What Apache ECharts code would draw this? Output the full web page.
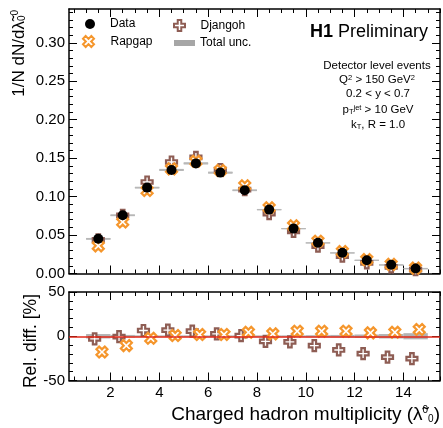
<!DOCTYPE html>
<html>
<head>
<meta charset="utf-8">
<script src="https://cdn.jsdelivr.net/npm/echarts@6/dist/echarts.min.js"></script>
<style>
html,body{margin:0;padding:0;background:#fff;}
#chart{width:443px;height:428px;}
</style>
</head>
<body>
<div id="chart"></div>
<script>
// ---------- data ----------
const binCenters = [1.5, 2.5, 3.5, 4.5, 5.5, 6.5, 7.5, 8.5, 9.5, 10.5, 11.5, 12.5, 13.5, 14.5];
const binWidth = 1;
const dataVals    = [0.0451, 0.0757, 0.1117, 0.1347, 0.1432, 0.1312, 0.1082, 0.0831, 0.0584, 0.0399, 0.0269, 0.0173, 0.0113, 0.0065];
const rapgapVals  = [0.0360, 0.0670, 0.1080, 0.1360, 0.1460, 0.1340, 0.1140, 0.0855, 0.0620, 0.0420, 0.0285, 0.0180, 0.0118, 0.0070];
const djangohVals = [0.0437, 0.0755, 0.1190, 0.1450, 0.1510, 0.1350, 0.1090, 0.0780, 0.0547, 0.0357, 0.0227, 0.0139, 0.0086, 0.0049];
const rapgapRel   = [-17.8, -10.6, -2.3, 0.8, 1.9, 2.0, 4.5, 2.7, 5.7, 5.7, 5.7, 3.8, 4.5, 7.6];
const djangohRel  = [-3.0, -0.4, 6.5, 7.0, 5.7, 2.7, 0.8, -5.7, -6.4, -10.6, -15.5, -19.7, -23.5, -25.3];
const totalUncPct = [2.5, 1.5, 1.0, 1.0, 1.0, 1.0, 1.0, 1.0, 1.0, 1.2, 1.5, 2.0, 2.5, 3.5];

const xTickLabels = [2, 4, 6, 8, 10, 12, 14];
const yMainTickLabels = [0, 0.05, 0.10, 0.15, 0.20, 0.25, 0.30];
const yRatioTickLabels = [-50, 0, 50];

// ---------- styles ----------
const FONT = 'Liberation Sans, Arial, Helvetica, sans-serif';
const C_RAP = '#f5962c';
const C_DJA = '#8e5d54';
const C_UNC = '#a6a6a6';
const relOffset = 0.15;

const plusPath = 'path://M3.4,0 L6.6,0 L6.6,3.4 L10,3.4 L10,6.6 L6.6,6.6 L6.6,10 L3.4,10 L3.4,6.6 L0,6.6 L0,3.4 L3.4,3.4 Z';
const xPath = 'path://M7.404,0.333 L9.667,2.596 L7.263,5 L9.667,7.404 L7.404,9.667 L5,7.263 L2.596,9.667 L0.333,7.404 L2.737,5 L0.333,2.596 L2.596,0.333 L5,2.737 Z';

function range(a, b, s) { const r = []; for (let v = a; v <= b + 1e-9; v += s) r.push(+v.toFixed(4)); return r; }
const xMinor = range(0.5, 15.5, 0.5);
const yMainMinor = range(0.01, 0.34, 0.01);
const yRatioMinor = range(-40, 40, 10);

const X_MIN = 0.3, X_MAX = 15.5;
const Y_MAIN_MAX = 0.344;

const G_MAIN = {left: 69, top: 9, width: 371, height: 264.5};
const G_RAT  = {left: 69, top: 292, width: 371, height: 88.5};

function xAx(grid, pos, ticks, len, labels, lineShow) {
  return {
    type: 'value', gridIndex: grid, position: pos, min: X_MIN, max: X_MAX,
    axisLine: {show: lineShow, onZero: false, lineStyle: {color: '#000', width: 1.5}},
    axisTick: {show: true, inside: true, length: len, customValues: ticks, lineStyle: {color: '#000', width: 1}},
    axisLabel: labels ? {show: true, customValues: labels, margin: 5, color: '#000', fontSize: 15, fontFamily: FONT} : {show: false},
    splitLine: {show: false}
  };
}
function yAx(grid, pos, min, max, ticks, len, labels, fmt, lineShow) {
  return {
    type: 'value', gridIndex: grid, position: pos, min: min, max: max,
    axisLine: {show: lineShow, onZero: false, lineStyle: {color: '#000', width: 1.5}},
    axisTick: {show: true, inside: true, length: len, customValues: ticks, lineStyle: {color: '#000', width: 1}},
    axisLabel: labels ? {show: true, customValues: labels, margin: 4, color: '#000', fontSize: 15, fontFamily: FONT, formatter: fmt} : {show: false},
    splitLine: {show: false}
  };
}

const fmtMain = v => v.toFixed(2);
const fmtRat = v => String(Math.round(v));

const xAxes = [
  xAx(0, 'bottom', xTickLabels, 8, null, true),
  xAx(0, 'top', xTickLabels, 8, null, true),
  xAx(2, 'bottom', xMinor, 4, null, false),
  xAx(2, 'top', xMinor, 4, null, false),
  xAx(1, 'bottom', xTickLabels, 8, xTickLabels, true),
  xAx(1, 'top', xTickLabels, 8, null, true),
  xAx(3, 'bottom', xMinor, 4, null, false),
  xAx(3, 'top', xMinor, 4, null, false)
];
const yAxes = [
  yAx(0, 'left', 0, Y_MAIN_MAX, yMainTickLabels, 8, yMainTickLabels, fmtMain, true),
  yAx(0, 'right', 0, Y_MAIN_MAX, yMainTickLabels, 8, null, null, true),
  yAx(2, 'left', 0, Y_MAIN_MAX, yMainMinor, 4, null, null, false),
  yAx(2, 'right', 0, Y_MAIN_MAX, yMainMinor, 4, null, null, false),
  yAx(1, 'left', -50, 50, yRatioTickLabels, 8, yRatioTickLabels, fmtRat, true),
  yAx(1, 'right', -50, 50, yRatioTickLabels, 8, null, null, true),
  yAx(3, 'left', -50, 50, yRatioMinor, 4, null, null, false),
  yAx(3, 'right', -50, 50, yRatioMinor, 4, null, null, false)
];

function boxRender(params, api) {
  const x = api.value(0), lo = api.value(1), hi = api.value(2);
  const p1 = api.coord([x - binWidth / 2, hi]);
  const p2 = api.coord([x + binWidth / 2, lo]);
  return {type: 'rect', shape: {x: p1[0], y: p1[1], width: p2[0] - p1[0], height: Math.max(p2[1] - p1[1], 1)},
          style: {fill: C_UNC, opacity: 0.85}};
}
function xerrRender(params, api) {
  const x = api.value(0), y = api.value(1);
  const p1 = api.coord([x - binWidth / 2, y]);
  const p2 = api.coord([x + binWidth / 2, y]);
  return {type: 'line', shape: {x1: p1[0], y1: p1[1], x2: p2[0], y2: p2[1]},
          style: {stroke: '#b8b8b8', lineWidth: 1.2}};
}

const series = [
  {name: 'Total unc.', type: 'custom', xAxisIndex: 0, yAxisIndex: 0, z: 1, renderItem: boxRender,
   itemStyle: {color: C_UNC},
   data: binCenters.map((b, i) => [b, dataVals[i] * (1 - totalUncPct[i] / 100), dataVals[i] * (1 + totalUncPct[i] / 100)])},
  {name: 'xerr', type: 'custom', xAxisIndex: 0, yAxisIndex: 0, z: 2, renderItem: xerrRender,
   data: binCenters.map((b, i) => [b, dataVals[i]])},
  {name: 'Djangoh', type: 'scatter', xAxisIndex: 0, yAxisIndex: 0, z: 3, symbol: plusPath, symbolSize: 11, symbolKeepAspect: true,
   itemStyle: {color: '#fff', borderColor: C_DJA, borderWidth: 2.2, opacity: 1},
   data: binCenters.map((b, i) => [b, djangohVals[i]])},
  {name: 'Rapgap', type: 'scatter', xAxisIndex: 0, yAxisIndex: 0, z: 4, symbol: xPath, symbolSize: 11, symbolKeepAspect: true,
   itemStyle: {color: '#fff', borderColor: C_RAP, borderWidth: 2.2, opacity: 1},
   data: binCenters.map((b, i) => [b, rapgapVals[i]])},
  {name: 'Data', type: 'scatter', xAxisIndex: 0, yAxisIndex: 0, z: 5, symbol: 'circle', symbolSize: 10,
   itemStyle: {color: '#000', opacity: 1},
   data: binCenters.map((b, i) => [b, dataVals[i]])},
  // ratio panel
  {name: 'Total unc.', type: 'custom', xAxisIndex: 4, yAxisIndex: 4, z: 1, renderItem: boxRender,
   itemStyle: {color: C_UNC},
   data: binCenters.map((b, i) => [b, -totalUncPct[i], totalUncPct[i]])},
  {name: 'zero', type: 'line', xAxisIndex: 4, yAxisIndex: 4, z: 2, data: [],
   markLine: {silent: true, symbol: 'none', animation: false, label: {show: false},
              lineStyle: {color: '#e0281a', width: 1.5, type: 'solid', opacity: 1}, data: [{yAxis: 0}]}},
  {name: 'Djangoh', type: 'scatter', xAxisIndex: 4, yAxisIndex: 4, z: 3, symbol: plusPath, symbolSize: 11, symbolKeepAspect: true,
   itemStyle: {color: '#fff', borderColor: C_DJA, borderWidth: 2.2, opacity: 1},
   data: binCenters.map((b, i) => [b - relOffset, djangohRel[i]])},
  {name: 'Rapgap', type: 'scatter', xAxisIndex: 4, yAxisIndex: 4, z: 4, symbol: xPath, symbolSize: 11, symbolKeepAspect: true,
   itemStyle: {color: '#fff', borderColor: C_RAP, borderWidth: 2.2, opacity: 1},
   data: binCenters.map((b, i) => [b + relOffset, rapgapRel[i]])}
];

const legendText = {color: '#000', fontSize: 12, fontFamily: FONT};
function leg(name, icon, left, top, w, h, style) {
  return {show: true, orient: 'vertical', left: left, top: top, padding: 0, itemGap: 0, itemWidth: w, itemHeight: h,
          selectedMode: false, textStyle: legendText, symbolKeepAspect: true,
          data: [{name: name, icon: icon, itemStyle: style}]};
}

const option = {
  animation: false,
  backgroundColor: '#fff',
  grid: [
    Object.assign({}, G_MAIN),
    Object.assign({}, G_RAT),
    Object.assign({}, G_MAIN),
    Object.assign({}, G_RAT)
  ],
  xAxis: xAxes,
  yAxis: yAxes,
  legend: [
    leg('Data', 'circle', 85, 18, 30, 10, {color: '#000'}),
    leg('Rapgap', xPath, 82, 35, 34, 11, {color: '#fff', borderColor: C_RAP, borderWidth: 2}),
    leg('Djangoh', plusPath, 173, 19, 32, 11, {color: '#fff', borderColor: C_DJA, borderWidth: 2}),
    leg('Total unc.', 'rect', 174, 37, 21, 6, {color: C_UNC, borderWidth: 0})
  ],
  graphic: [
    {type: 'text', x: 428, y: 32, style: {
      text: '{b|H1} Preliminary', align: 'right', verticalAlign: 'middle',
      font: '18px ' + FONT, fill: '#000',
      rich: {b: {fontWeight: 'bold', fontSize: 18, fontFamily: FONT}}}},
    {type: 'text', x: 377, y: 66, style: {text: 'Detector level events', align: 'center', verticalAlign: 'middle', font: '11.5px ' + FONT, fill: '#000'}},
    {type: 'text', x: 377, y: 80, style: {text: 'Q{sup|2} > 150 GeV{sup|2}', align: 'center', verticalAlign: 'middle', font: '11.5px ' + FONT, fill: '#000',
      rich: {sup: {fontSize: 7.5, verticalAlign: 'top', lineHeight: 8, fontFamily: FONT}}}},
    {type: 'text', x: 378, y: 94, style: {text: '0.2 < y < 0.7', align: 'center', verticalAlign: 'middle', font: '11.5px ' + FONT, fill: '#000'}},
    {type: 'text', x: 378, y: 110, style: {text: 'p{sub|T}{sup|jet} > 10 GeV', align: 'center', verticalAlign: 'middle', font: '11.5px ' + FONT, fill: '#000',
      rich: {sup: {fontSize: 7.5, verticalAlign: 'top', lineHeight: 8, fontFamily: FONT},
             sub: {fontSize: 7.5, verticalAlign: 'bottom', lineHeight: 8, fontFamily: FONT}}}},
    {type: 'text', x: 378, y: 125, style: {text: 'k{sub|T}, R = 1.0', align: 'center', verticalAlign: 'middle', font: '11.5px ' + FONT, fill: '#000',
      rich: {sub: {fontSize: 7.5, verticalAlign: 'bottom', lineHeight: 8, fontFamily: FONT}}}},
    {type: 'text', x: 19, y: 10, rotation: Math.PI / 2, style: {
      text: '1/N dN/d\u03BB\u0303{sub|0}{sup|0}', align: 'right', verticalAlign: 'middle', font: '17px ' + FONT, fill: '#000',
      rich: {sup: {fontSize: 10, verticalAlign: 'top', lineHeight: 10, fontFamily: FONT},
             sub: {fontSize: 10, verticalAlign: 'bottom', lineHeight: 10, fontFamily: FONT}}}},
    {type: 'text', x: 31, y: 294, rotation: Math.PI / 2, style: {
      text: 'Rel. diff. [%]', align: 'right', verticalAlign: 'middle', font: '17.5px ' + FONT, fill: '#000'}},
    {type: 'text', x: 440, y: 415, style: {
      text: 'Charged hadron multiplicity (\u03BB\u0303{sup|0}{sub|0})', align: 'right', verticalAlign: 'middle', font: '19px ' + FONT, fill: '#000',
      rich: {sup: {fontSize: 10, verticalAlign: 'top', lineHeight: 10, fontFamily: FONT},
             sub: {fontSize: 10, verticalAlign: 'bottom', lineHeight: 10, fontFamily: FONT}}}}
  ],
  series: series
};

const chart = echarts.init(document.getElementById('chart'), null, {renderer: 'canvas'});
chart.setOption(option);
</script>
</body>
</html>
